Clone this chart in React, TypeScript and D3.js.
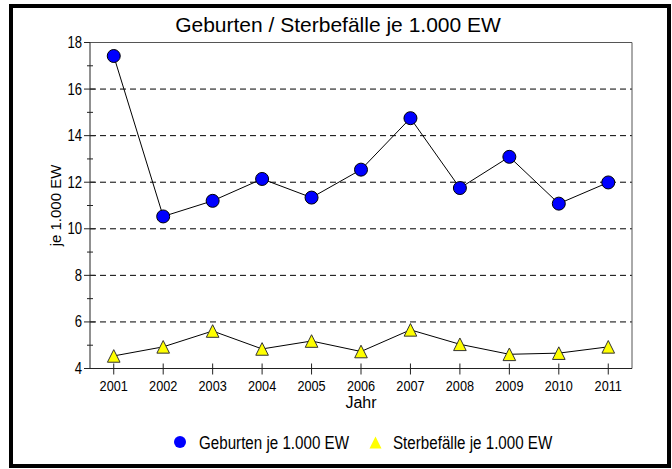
import React from 'react';
import * as d3 from 'd3';

const years = ['2001', '2002', '2003', '2004', '2005', '2006', '2007', '2008', '2009', '2010', '2011'];
const geburten = [17.42, 10.53, 11.2, 12.14, 11.34, 12.54, 14.75, 11.75, 13.09, 11.08, 11.99];
const sterbefaelle = [4.54, 4.93, 5.61, 4.84, 5.18, 4.73, 5.66, 5.04, 4.61, 4.66, 4.93];
const majorTicks = [4, 6, 8, 10, 12, 14, 16, 18];
const minorTicks = [5, 7, 9, 11, 13, 15, 17];
const gridTicks = [6, 8, 10, 12, 14, 16];
const legendLabels = ['Geburten je 1.000 EW', 'Sterbefälle je 1.000 EW'];

const W = 672;
const H = 469;
const margin = { top: 42.5, right: 40, bottom: 100.5, left: 90 };
const sans = '"Liberation Sans", Arial, sans-serif';

const tri = (x: number, y: number, r: number) =>
  `M${x},${y - r}L${x + r},${y + r}L${x - r},${y + r}Z`;

// no narrow font installed, so squeeze Liberation Sans horizontally
const Narrow = ({ x, y, size, anchor, children }: any) => (
  <text
    transform={`translate(${x},${y}) scale(0.82,1)`}
    textAnchor={anchor || 'start'}
    fontFamily={sans}
    fontSize={size}
    fill="#000"
  >
    {children}
  </text>
);

const App = () => {
  const x0 = margin.left;
  const x1 = W - margin.right;
  const y0 = H - margin.bottom;
  const y1 = margin.top;

  const x = d3.scalePoint<string>().domain(years).range([x0, x1]).padding(0.48);
  const y = d3.scaleLinear().domain([4, 18]).range([y0, y1]);

  const lineG = d3
    .line<number>()
    .x((_, i) => x(years[i]) as number)
    .y((d) => y(d));

  return (
    <svg width={W} height={H} style={{ position: 'absolute', left: 0, top: 0, background: '#fff' }}>
      <rect x={11} y={6} width={658} height={460} fill="#fff" stroke="#000" strokeWidth={4} />

      <text x={338} y={32} textAnchor="middle" fontFamily={sans} fontSize={21} fill="#000">
        Geburten / Sterbefälle je 1.000 EW
      </text>

      {/* grid */}
      {gridTicks.map((t) => (
        <line key={'g' + t} x1={x0} x2={x1} y1={y(t)} y2={y(t)} stroke="#000" strokeDasharray="6,4" />
      ))}

      {/* frame of plot */}
      <line x1={x0} x2={x1} y1={y1} y2={y1} stroke="#555" />
      <line x1={x1} x2={x1} y1={y1} y2={y0} stroke="#555" />
      <line x1={x0} x2={x0} y1={y1} y2={y0} stroke="#222" />
      <line x1={x0} x2={x1} y1={y0} y2={y0} stroke="#222" />

      {/* y ticks */}
      {majorTicks.map((t) => (
        <g key={'m' + t}>
          <line x1={x0 - 6} x2={x0 + (t === 18 ? 0 : 5)} y1={y(t)} y2={y(t)} stroke="#222" />
          <Narrow x={x0 - 8} y={y(t) + 5.5} size={16} anchor="end">
            {t}
          </Narrow>
        </g>
      ))}
      {minorTicks.map((t) => (
        <line key={'n' + t} x1={x0 - 3} x2={x0 + 3} y1={y(t)} y2={y(t)} stroke="#222" />
      ))}

      {/* x ticks */}
      {years.map((yr) => (
        <g key={yr}>
          <line x1={x(yr)} x2={x(yr)} y1={y0 - 5} y2={y0 + 6} stroke="#222" />
          <Narrow x={x(yr)} y={y0 + 22} size={15.5} anchor="middle">
            {yr}
          </Narrow>
        </g>
      ))}

      <text x={x(years[5])} y={408} textAnchor="middle" fontFamily={sans} fontSize={16} fill="#000">
        Jahr
      </text>
      <text
        transform={`translate(61,${(y0 + y1) / 2}) rotate(-90)`}
        textAnchor="middle"
        fontFamily={sans}
        fontSize={15}
        fill="#000"
      >
        je 1.000 EW
      </text>

      {/* series */}
      <path d={lineG(geburten) as string} fill="none" stroke="#000" strokeWidth={1} />
      <path d={lineG(sterbefaelle) as string} fill="none" stroke="#000" strokeWidth={1} />
      {geburten.map((v, i) => (
        <circle key={'c' + i} cx={x(years[i])} cy={y(v)} r={6.5} fill="#0000ff" stroke="#000" strokeWidth={1} />
      ))}
      {sterbefaelle.map((v, i) => (
        <path key={'t' + i} d={tri(x(years[i]) as number, y(v), 6.3)} fill="#ffff00" stroke="#333" strokeWidth={1} />
      ))}

      {/* legend */}
      <circle cx={180} cy={442} r={6} fill="#0000ff" />
      <Narrow x={199} y={448.5} size={18.5}>
        {legendLabels[0]}
      </Narrow>
      <path d={tri(375.5, 442.5, 6)} fill="#ffff00" />
      <Narrow x={393} y={448.5} size={18.5}>
        {legendLabels[1]}
      </Narrow>
    </svg>
  );
};

export default App;
